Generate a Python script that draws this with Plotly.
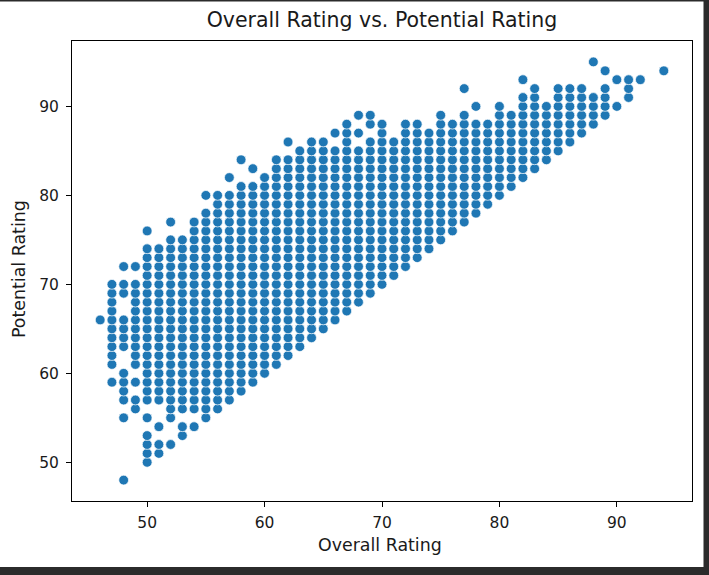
"""Overall Rating vs. Potential Rating scatter, redrawn with Plotly."""

import plotly.graph_objects as go

# Overall rating values (x columns)
overall_rating = [
    46, 47, 48, 49, 50, 51, 52, 53, 54, 55, 56, 57, 58, 59, 60, 61, 62, 63, 64, 65,
    66, 67, 68, 69, 70, 71, 72, 73, 74, 75, 76, 77, 78, 79, 80, 81, 82, 83, 84, 85,
    86, 87, 88, 89, 90, 91, 92, 94,
]

# potential ratings seen in each column, as (low, high) runs of integer values
potential_runs = [
    [(66, 66)],
    [(61, 70), (59, 59)],
    [(72, 72), (69, 70), (63, 66), (57, 60), (55, 55), (48, 48)],
    [(72, 72), (61, 70), (59, 59), (56, 57)],
    [(76, 76), (57, 74), (55, 55), (50, 53)],
    [(57, 74), (54, 54), (51, 52)],
    [(77, 77), (55, 75), (52, 52)],
    [(56, 75), (53, 54)],
    [(56, 77), (54, 54)],
    [(80, 80), (55, 78)],
    [(56, 80)],
    [(82, 82), (57, 80)],
    [(84, 84), (58, 81)],
    [(83, 83), (59, 81)],
    [(60, 82)],
    [(61, 84)],
    [(86, 86), (62, 84)],
    [(63, 85)],
    [(64, 86)],
    [(65, 86)],
    [(87, 87), (66, 85)],
    [(67, 88)],
    [(89, 89), (87, 87), (68, 85)],
    [(88, 89), (69, 86)],
    [(70, 88)],
    [(71, 86)],
    [(72, 88)],
    [(73, 88)],
    [(74, 87)],
    [(75, 89)],
    [(76, 88)],
    [(92, 92), (77, 89)],
    [(90, 90), (78, 88)],
    [(79, 88)],
    [(80, 90)],
    [(81, 89)],
    [(93, 93), (82, 91)],
    [(83, 92)],
    [(84, 90)],
    [(85, 92)],
    [(86, 92)],
    [(87, 92)],
    [(95, 95), (88, 91)],
    [(94, 94), (89, 92)],
    [(93, 93), (90, 90)],
    [(91, 93)],
    [(93, 93)],
    [(94, 94)],
]

x_ticks = [50, 60, 70, 80, 90]
y_ticks = [50, 60, 70, 80, 90]

# expand the runs into one point per (overall, potential) pair
xs, ys = [], []
for ov, runs in zip(overall_rating, potential_runs):
    for lo, hi in runs:
        for p in range(lo, hi + 1):
            xs.append(ov)
            ys.append(p)

FONT = "DejaVu Sans"
INK = "#1a1a1a"
W, H = 709, 575
L, R, T, B = 72, 692, 41, 501  # plot box in pixels
pw, ph = R - L, B - T


def px_x(px):
    return (px - L) / pw


def px_y(py):
    return (B - py) / ph


fig = go.Figure()
fig.add_trace(
    go.Scatter(
        x=xs,
        y=ys,
        mode="markers",
        marker=dict(size=9.8, color="#1f77b4", line=dict(color="white", width=0.7)),
        showlegend=False,
    )
)

axis_style = dict(
    showgrid=False,
    zeroline=False,
    showline=True,
    mirror=True,
    linecolor="black",
    linewidth=1,
    ticks="outside",
    ticklen=5,
    tickwidth=1,
    tickcolor="black",
    automargin=False,
    tickfont=dict(family=FONT, size=15.5, color=INK),
)

fig.update_layout(
    width=W,
    height=H,
    paper_bgcolor="white",
    plot_bgcolor="white",
    margin=dict(l=L, r=W - R, t=T, b=H - B, autoexpand=False),
    title=dict(
        text="Overall Rating vs. Potential Rating",
        x=(L + R) / 2 / W,
        xanchor="center",
        y=1 - 20 / H,
        yanchor="middle",
        font=dict(family=FONT, size=20.5, color=INK),
    ),
    xaxis=dict(axis_style, range=[43.6, 96.4], tickvals=x_ticks, ticklabelstandoff=2),
    yaxis=dict(axis_style, range=[45.65, 97.35], tickvals=y_ticks, ticklabelstandoff=4),
    annotations=[
        dict(text="Overall Rating", xref="paper", yref="paper", x=px_x(380), y=px_y(545),
             xanchor="center", yanchor="middle", showarrow=False,
             font=dict(family=FONT, size=17.4, color=INK)),
        dict(text="Potential Rating", xref="paper", yref="paper", x=px_x(19), y=px_y(269),
             xanchor="center", yanchor="middle", showarrow=False, textangle=-90,
             font=dict(family=FONT, size=17.4, color=INK)),
    ],
    shapes=[
        # dark window frame at the right and bottom edges of the screenshot
        dict(type="rect", xref="paper", yref="paper", x0=px_x(703.5), x1=px_x(712),
             y0=px_y(578), y1=px_y(-3), fillcolor="#2b2b2b", line=dict(width=0), layer="above"),
        dict(type="rect", xref="paper", yref="paper", x0=px_x(-3), x1=px_x(712),
             y0=px_y(578), y1=px_y(567), fillcolor="#2b2b2b", line=dict(width=0), layer="above"),
        dict(type="rect", xref="paper", yref="paper", x0=px_x(-3), x1=px_x(712),
             y0=px_y(1.5), y1=px_y(-3), fillcolor="#2b2b2b", line=dict(width=0), layer="above"),
    ],
)

# drop the browser's default 8px body margin so the figure sits at the window corner
fig.write_html(
    "out.html",
    config={"displayModeBar": False},
    post_script="document.body.style.margin='0';document.body.style.overflow='hidden';",
)
